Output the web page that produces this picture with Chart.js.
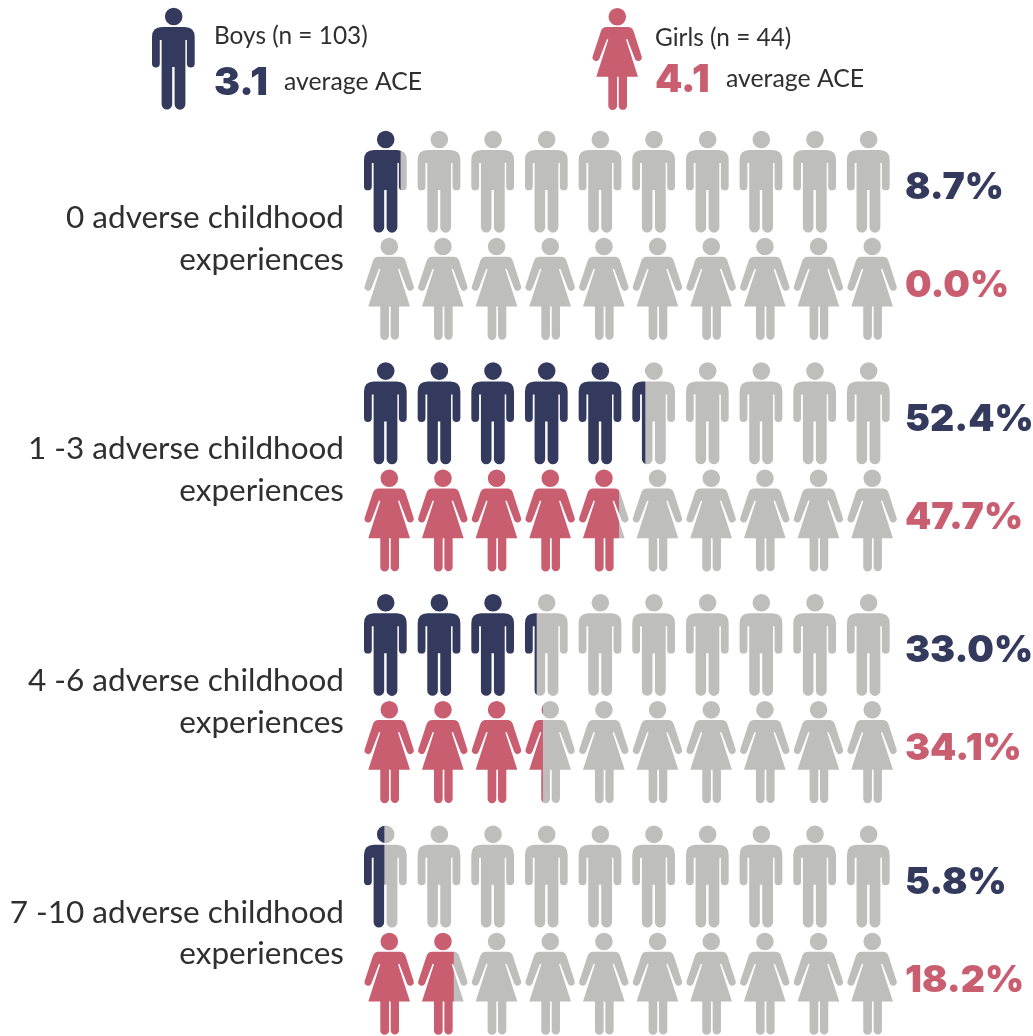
<!DOCTYPE html>
<html>
<head>
<meta charset="utf-8">
<title>Adverse childhood experiences</title>
<script src="https://cdn.jsdelivr.net/npm/chart.js@4/dist/chart.umd.min.js"></script>
<style>
    html, body { margin: 0; background: #fff; overflow: hidden; }
    #wrap { width: 1033px; height: 1036px; overflow: hidden; }
    canvas { display: block; }
</style>
</head>
<body>
<div id="wrap"><canvas id="chart" width="1033" height="1096"></canvas></div>
<script>
const categories = [
    ['0 adverse childhood', 'experiences'],
    ['1 -3 adverse childhood', 'experiences'],
    ['4 -6 adverse childhood', 'experiences'],
    ['7 -10 adverse childhood', 'experiences']
];
const boysPct = [8.7, 52.4, 33.0, 5.8];
const boysRest = [91.3, 47.6, 67.0, 94.2];
const girlsPct = [0.0, 47.7, 34.1, 18.2];
const girlsRest = [100, 52.3, 65.9, 81.8];
const boysLegend = ['Boys (n = 103)', '3.1', 'average ACE'];
const girlsLegend = ['Girls (n = 44)', '4.1', 'average ACE'];

const NAVY = '#343a5e';
const PINK = '#c95e70';
const GREY = '#bebebc';
const INK = '#2f2f2f';

// person silhouettes, about 102px tall
const boyIcon = new Path2D(
    'M30.5 8.5a8.8 8.8 0 1 1-17.6 0a8.8 8.8 0 1 1 17.6 0Z' +
    'M10 19H32.7Q42.7 19 42.7 29V55.5A3.9 3.9 0 0 1 34.9 55.5V32H33.4V96.3A5.4 5.4 0 0 1 22.6 96.3V59H20.2V96.3' +
    'A5.3 5.3 0 0 1 9.6 96.3V32H7.8V55.5A3.9 3.9 0 0 1 0 55.5V29Q0 19 10 19Z'
);
const girlIcon = new Path2D(
    'M34.1 8.7a8.8 8.8 0 1 1-17.6 0a8.8 8.8 0 1 1 17.6 0Z' +
    'M14.5 19H36Q40 19 41.5 23L49.7 48.5A3.6 3.6 0 0 1 43 51L35.3 31L34 31.5L46 68.7H35V97.7A4.15 4.15 0 0 1 26.7 97.7V68.7' +
    'H25V97.7A4.35 4.35 0 0 1 16.3 97.7V68.7H4.3L16.3 31.5L15 31L7.3 51A3.6 3.6 0 0 1 0.6 48.5L9 23Q10.5 19 14.5 19Z'
);

const ICON_X = 364;
const ICON_PITCH = 53.66;
const ICON_COUNT = 10;

// cut the stacked bars down to rows of people
const iconMask = {
    id: 'iconMask',
    afterDatasetsDraw(chart) {
        const ctx = chart.ctx;
        const mask = new Path2D();
        [[1, boyIcon], [3, girlIcon]].forEach(([index, icon]) => {
            chart.getDatasetMeta(index).data.forEach((bar) => {
                for (let k = 0; k < ICON_COUNT; k++) {
                    mask.addPath(icon, new DOMMatrix().translate(ICON_X + k * ICON_PITCH, bar.y - 51));
                }
            });
        });
        ctx.save();
        ctx.globalCompositeOperation = 'destination-in';
        ctx.fillStyle = '#000';
        ctx.fill(mask);
        ctx.restore();
    }
};

function drawLegend(ctx, icon, iconX, color, texts, x, y1, y2, avgX) {
    ctx.save();
    ctx.translate(iconX, 8);
    ctx.fillStyle = color;
    ctx.fill(icon);
    ctx.restore();
    ctx.textAlign = 'left';
    ctx.textBaseline = 'alphabetic';
    ctx.fillStyle = INK;
    ctx.font = '24.4px Lato, sans-serif';
    ctx.fillText(texts[0], x, y1);
    ctx.font = '24.8px Lato, sans-serif';
    ctx.fillText(texts[2], avgX, y2 - 5);
    ctx.fillStyle = color;
    ctx.font = '900 39px Inter, sans-serif';
    ctx.fillText(texts[1], x, y2);
}

const annotations = {
    id: 'annotations',
    afterDraw(chart) {
        const ctx = chart.ctx;
        ctx.save();
        ctx.textAlign = 'left';
        ctx.textBaseline = 'middle';
        ctx.font = '900 37.5px Inter, sans-serif';
        [[0, boysPct, NAVY, 6], [2, girlsPct, PINK, -3]].forEach(([index, values, color, nudge]) => {
            ctx.fillStyle = color;
            chart.getDatasetMeta(index).data.forEach((bar, i) => {
                ctx.fillText(values[i].toFixed(1) + '%', 905, bar.y + nudge);
            });
        });
        drawLegend(ctx, boyIcon, 152, NAVY, boysLegend, 214, 44, 95, 284);
        drawLegend(ctx, girlIcon, 592, PINK, girlsLegend, 655, 46, 92, 726);
        ctx.restore();
    }
};

function barSet(label, data, color, stack) {
    return {
        label, data, stack,
        backgroundColor: color,
        borderWidth: 0,
        categoryPercentage: 0.923,
        barPercentage: 0.97
    };
}

new Chart(document.getElementById('chart'), {
    type: 'bar',
    data: {
        labels: categories,
        datasets: [
            barSet('Boys', boysPct, NAVY, 'boys'),
            barSet('Boys, other', boysRest, GREY, 'boys'),
            barSet('Girls', girlsPct, PINK, 'girls'),
            barSet('Girls, other', girlsRest, GREY, 'girls')
        ]
    },
    options: {
        indexAxis: 'y',
        responsive: false,
        animation: false,
        layout: { padding: { top: 119.6, bottom: 0, right: 121, left: 0 } },
        plugins: { legend: { display: false }, tooltip: { enabled: false } },
        scales: {
            x: { display: false, stacked: true, min: 0, max: 100 },
            y: {
                stacked: true,
                afterFit(scale) { scale.width = 352; },
                grid: { display: false, drawTicks: false },
                border: { display: false },
                ticks: {
                    z: 1,
                    color: INK,
                    padding: 8,
                    labelOffset: 3,
                    autoSkip: false,
                    font: { family: 'Lato, sans-serif', size: 31.5, lineHeight: 1.33 }
                }
            }
        }
    },
    plugins: [iconMask, annotations]
});
</script>
</body>
</html>
